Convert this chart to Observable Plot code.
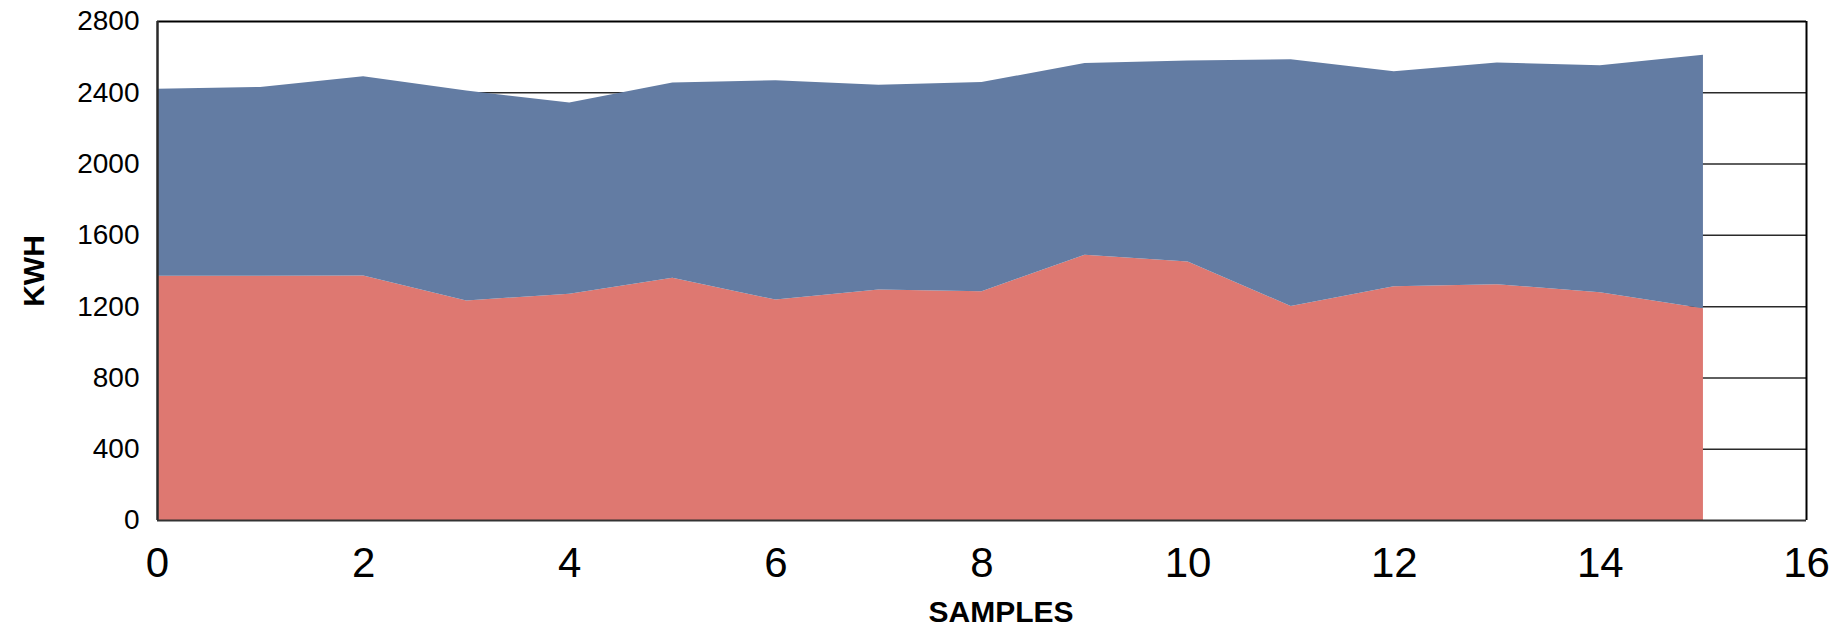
<!DOCTYPE html>
<html>
<head>
<meta charset="utf-8">
<script src="https://cdn.jsdelivr.net/npm/d3@7"></script>
<script src="https://cdn.jsdelivr.net/npm/@observablehq/plot@0.6"></script>
<style>
  html, body { margin: 0; padding: 0; background: #fff; }
  #chart { width: 1843px; height: 636px; }
</style>
</head>
<body>
<div id="chart"></div>
<script>
const samples = [0, 1, 2, 3, 4, 5, 6, 7, 8, 9, 10, 11, 12, 13, 14, 15];
const seriesNames = ["Series 1", "Series 2"];
const series1 = [1370, 1370, 1372, 1232, 1270, 1360, 1237, 1294, 1284, 1488, 1451, 1201, 1311, 1323, 1278, 1188];
const series2 = [1050, 1060, 1118, 1178, 1072, 1095, 1231, 1148, 1174, 1076, 1128, 1384, 1207, 1244, 1274, 1423];
const yTicks = [0, 400, 800, 1200, 1600, 2000, 2400, 2800];
const xTicks = [0, 2, 4, 6, 8, 10, 12, 14, 16];
const gridValues = [400, 800, 1200, 1600, 2000, 2400];
const colors = ["#de7871", "#637ca3"];

const rows = [];
samples.forEach((s, i) => rows.push({sample: s, kwh: series1[i], series: seriesNames[0]}));
samples.forEach((s, i) => rows.push({sample: s, kwh: series2[i], series: seriesNames[1]}));

const chart = Plot.plot({
  width: 1843,
  height: 636,
  marginTop: 21,
  marginBottom: 116,
  marginLeft: 157,
  marginRight: 37,
  style: {fontFamily: "'Liberation Sans', Arial, sans-serif", background: "#fff", color: "#000"},
  x: {domain: [0, 16]},
  y: {domain: [0, 2800]},
  color: {domain: seriesNames, range: colors},
  marks: [
    Plot.ruleY(gridValues, {stroke: "#2a2a2a", strokeWidth: 1.5}),
    Plot.areaY(rows, {x: "sample", y: "kwh", fill: "series", z: "series", curve: "linear"}),
    Plot.ruleY([2800], {stroke: "#000", strokeWidth: 2}),
    Plot.ruleX([16], {stroke: "#000", strokeWidth: 2}),
    Plot.ruleX([0], {stroke: "#2a2a2a", strokeWidth: 2.5}),
    Plot.ruleY([0], {stroke: "#333", strokeWidth: 2}),
    Plot.axisY({ticks: yTicks, tickSize: 0, tickPadding: 18, fontSize: 28, label: null, tickFormat: d => String(d)}),
    Plot.axisX({ticks: xTicks, tickSize: 0, tickPadding: 27, fontSize: 42, label: null, tickFormat: d => String(d)}),
    Plot.text(["KWH"], {frameAnchor: "left", textAnchor: "middle", dx: -123, rotate: -90, fontSize: 30, fontWeight: "bold", fill: "#000"}),
    Plot.text(["SAMPLES"], {frameAnchor: "bottom", textAnchor: "middle", dx: 19, dy: 101, fontSize: 30, fontWeight: "bold", fill: "#000"})
  ]
});
document.getElementById("chart").appendChild(chart);
</script>
</body>
</html>
